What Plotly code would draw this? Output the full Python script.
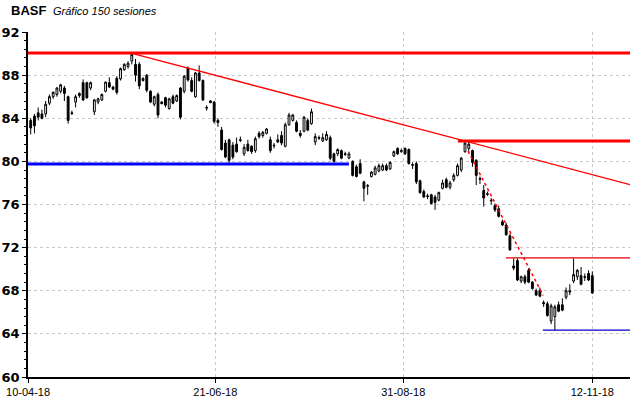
import plotly.graph_objects as go

# ---------------- data ----------------
opens = [83.8,84.2,84.5,84.4,84.4,85.4,86.0,86.2,86.5,86.8,86.0,84.5,85.5,86.1,87.3,87.3,86.8,84.6,85.5,85.7,
         86.5,87.3,86.9,87.7,87.65,88.5,88.8,89.3,89.0,89.0,87.5,88.0,86.5,85.3,86.2,85.5,85.9,84.9,86.0,85.6,
         86.8,86.5,88.65,87.5,86.0,88.2,87.5,85.0,85.6,85.5,83.8,82.9,81.7,82.0,81.5,81.6,82.0,80.7,81.6,81.4,
         81.0,82.6,82.4,82.6,82.0,81.5,82.0,82.4,81.4,83.4,83.8,83.6,82.6,82.8,83.8,83.5,81.8,82.2,81.9,82.0,
         82.2,80.7,80.7,81.0,80.7,80.3,80.0,79.5,79.8,78.1,77.7,78.6,78.8,79.1,79.2,79.6,79.3,80.5,81.2,80.9,
         81.2,81.1,79.7,79.8,78.2,77.2,76.8,76.9,76.7,76.4,77.5,78.3,77.6,78.3,78.7,79.2,80.9,81.2,81.0,80.1,
         78.4,77.3,77.0,76.4,75.9,75.6,74.4,74.1,73.1,70.3,70.8,68.9,69.3,69.9,68.8,68.0,68.0,66.9,66.8,65.2,
         65.6,66.7,66.7,67.4,68.0,68.9,69.3,69.4,69.3,69.6,69.4]
highs = [84.0,84.4,85.0,84.8,85.6,86.2,86.5,86.9,87.2,87.0,86.1,84.7,86.2,86.4,87.6,87.4,87.4,85.8,85.9,86.3,
         87.4,87.8,87.0,87.9,88.7,89.1,89.3,90.0,89.5,89.2,87.8,88.1,86.6,86.1,86.4,85.6,86.0,85.9,86.2,86.2,
         86.9,88.0,88.8,87.8,88.3,88.9,87.6,85.2,85.7,85.6,84.0,83.2,82.0,82.1,81.8,82.2,82.3,81.6,82.0,81.5,
         82.3,82.8,82.8,83.1,82.3,81.7,82.5,82.8,83.6,84.5,84.4,83.8,82.9,84.2,84.0,84.9,82.6,82.4,82.6,82.8,
         82.4,80.8,81.2,81.1,80.9,80.9,80.1,79.7,80.2,78.2,77.9,79.1,79.6,79.8,79.8,79.8,80.0,81.0,81.3,81.2,
         81.3,81.2,79.9,80.0,78.3,77.4,77.0,77.0,76.9,77.2,78.3,78.5,78.2,78.9,79.8,80.4,82.0,81.9,81.1,80.2,
         78.6,77.8,77.2,76.6,76.1,75.9,74.6,74.3,73.3,71.0,71.0,69.4,69.5,70.1,68.9,68.2,68.3,67.1,67.0,66.8,
         66.7,67.0,67.3,68.3,68.6,71.0,70.0,70.2,69.6,69.9,69.8]
lows = [82.5,82.6,83.8,83.9,84.1,85.2,85.8,86.0,86.3,85.6,83.5,84.3,85.0,85.9,85.6,85.8,86.6,84.3,85.3,85.6,
        86.4,86.8,86.6,86.2,87.5,88.4,88.6,89.0,87.4,86.7,87.4,86.4,85.4,85.1,84.0,85.3,85.0,84.8,85.3,85.5,
        83.9,86.3,87.4,86.4,85.9,87.4,85.6,84.7,85.4,83.5,83.2,81.0,80.3,79.7,80.2,80.8,81.8,80.5,80.9,80.7,
        80.8,82.1,82.2,82.5,80.8,81.2,81.7,81.5,81.3,83.3,83.7,82.7,82.2,82.7,82.8,83.4,81.5,82.0,81.8,81.9,
        80.1,79.9,80.5,80.2,80.5,80.2,78.6,78.5,78.8,76.3,76.9,78.5,78.7,79.0,79.1,79.1,79.2,80.4,80.6,80.8,
        80.6,79.7,79.3,77.9,77.0,76.6,76.5,76.0,75.5,76.3,77.4,77.5,77.4,78.1,78.6,79.0,80.8,80.8,79.5,77.8,
        77.9,75.8,76.8,76.0,75.3,74.8,74.0,73.1,71.7,69.9,68.9,68.7,68.6,68.7,68.1,67.5,67.4,66.5,65.6,64.9,
        64.3,66.0,66.1,67.2,67.6,68.7,69.0,68.5,68.9,68.9,67.7]
closes = [83.1,83.3,84.1,84.0,85.3,86.0,86.4,86.8,87.1,86.3,83.8,84.45,86.0,86.3,85.7,85.9,87.3,85.7,85.8,86.2,
          87.35,86.9,86.7,86.4,88.6,89.0,89.1,89.9,88.0,87.0,87.7,86.6,85.5,86.0,84.3,85.35,85.2,85.8,85.4,86.1,
          84.1,87.9,87.55,86.5,88.2,87.5,85.7,84.95,85.45,83.7,83.6,81.1,80.4,80.1,80.4,80.9,81.95,81.3,81.0,80.9,
          82.1,82.3,82.7,83.0,81.0,81.45,81.8,81.7,83.4,84.3,84.3,82.8,82.4,84.1,82.9,84.6,82.3,82.15,82.2,82.5,
          80.3,80.0,81.1,80.3,80.65,80.7,78.7,78.6,78.9,77.5,77.75,79.0,79.4,79.6,79.6,79.2,79.9,80.9,80.7,81.0,
          80.7,79.8,79.65,78.1,77.1,76.7,76.75,76.1,76.2,77.1,78.0,77.6,78.0,78.7,79.6,80.3,81.7,81.6,79.9,78.7,
          78.35,76.6,76.95,76.35,75.5,74.9,74.1,73.2,71.8,70.1,69.0,69.3,68.8,68.8,68.2,67.6,67.5,66.8,65.7,66.6,
          66.5,66.1,66.2,68.0,67.9,69.5,69.9,68.6,69.25,69.0,67.8]
sessions = list(range(len(closes)))

tick_sessions = [-0.7, 49.3, 99.5, 150]
tick_labels = ["10-04-18", "21-06-18", "31-08-18", "12-11-18"]
y_ticks = [60, 64, 68, 72, 76, 80, 84, 88, 92]

# drawn trend lines / levels: (x0, y0, x1, y1) in session / price units
X_MIN, X_MAX = -0.72, 160.07
resist_top = (X_MIN, 90.05, X_MAX, 90.05)
trend_down = (27.3, 90.0, X_MAX, 77.85)
support_blue = (X_MIN, 79.75, 85.0, 79.75)
resist_mid = (114.1, 81.9, X_MAX, 81.9)
trend_steep = (116.8, 80.95, 136.9, 67.56)
level_71 = (126.95, 71.05, X_MAX, 71.05)
level_64 = (136.8, 64.35, X_MAX, 64.35)

fig = go.Figure()
fig.add_trace(go.Candlestick(
    x=sessions, open=opens, high=highs, low=lows, close=closes,
    increasing=dict(line=dict(color="black", width=1), fillcolor="white"),
    decreasing=dict(line=dict(color="black", width=1), fillcolor="black"),
    whiskerwidth=0, showlegend=False, hoverinfo="skip"))

def seg(p, color, width, dash="solid"):
    fig.add_trace(go.Scatter(x=[p[0], p[2]], y=[p[1], p[3]], mode="lines",
                             line=dict(color=color, width=width, dash=dash),
                             showlegend=False, hoverinfo="skip"))

seg(resist_top, "#ff0000", 3)
seg(trend_down, "#ff0000", 1.3)
seg(support_blue, "#0000ff", 3)
seg(resist_mid, "#ff0000", 3)
seg(trend_steep, "#ff0000", 1.5, "dot")
seg(level_71, "#e00000", 1.2)
seg(level_64, "#0000c8", 1.2)

W, H = 640, 398
L, R, T, B = 28, 10, 32, 21
pw, ph = W - L - R, H - T - B

def px_x(px):
    return (px - L) / pw

def px_y(py):
    return (H - B - py) / ph

fig.add_annotation(text="<b>BASF</b>", xref="paper", yref="paper", x=px_x(9), y=px_y(11),
                   xanchor="left", yanchor="middle", showarrow=False,
                   font=dict(family="Liberation Sans", size=13, color="black"))
fig.add_annotation(text="<i>Gráfico 150 sesiones</i>", xref="paper", yref="paper", x=px_x(51), y=px_y(11),
                   xanchor="left", yanchor="middle", showarrow=False,
                   font=dict(family="Liberation Sans", size=11, color="black"))

fig.update_layout(
    width=W, height=H, margin=dict(l=L, r=R, t=T, b=B, autoexpand=False),
    paper_bgcolor="white", plot_bgcolor="white",
    showlegend=False,
    xaxis=dict(range=[X_MIN, X_MAX], rangeslider=dict(visible=False), automargin=False,
               tickmode="array", tickvals=tick_sessions, ticktext=tick_labels,
               ticks="outside", ticklen=4, tickcolor="black",
               showline=True, linecolor="black", linewidth=1.5,
               showgrid=True, gridcolor="#c8c8c8", griddash="dot", gridwidth=1,
               zeroline=False,
               tickfont=dict(family="Liberation Sans", size=11, color="black")),
    yaxis=dict(range=[60, 92], tickmode="array", tickvals=y_ticks, automargin=False,
               ticks="outside", ticklen=4, tickcolor="black",
               minor=dict(dtick=0.8, tick0=60, ticklen=2, tickcolor="black", ticks="outside", showgrid=False),
               showline=True, linecolor="black", linewidth=1.5,
               showgrid=True, gridcolor="#c8c8c8", griddash="dot", gridwidth=1,
               zeroline=False,
               tickfont=dict(family="DejaVu Sans", size=13, color="black", weight="bold")),
)

fig.write_html("out.html", config={"displayModeBar": False},
               post_script="document.body.style.margin='0';document.body.style.overflow='hidden';")
